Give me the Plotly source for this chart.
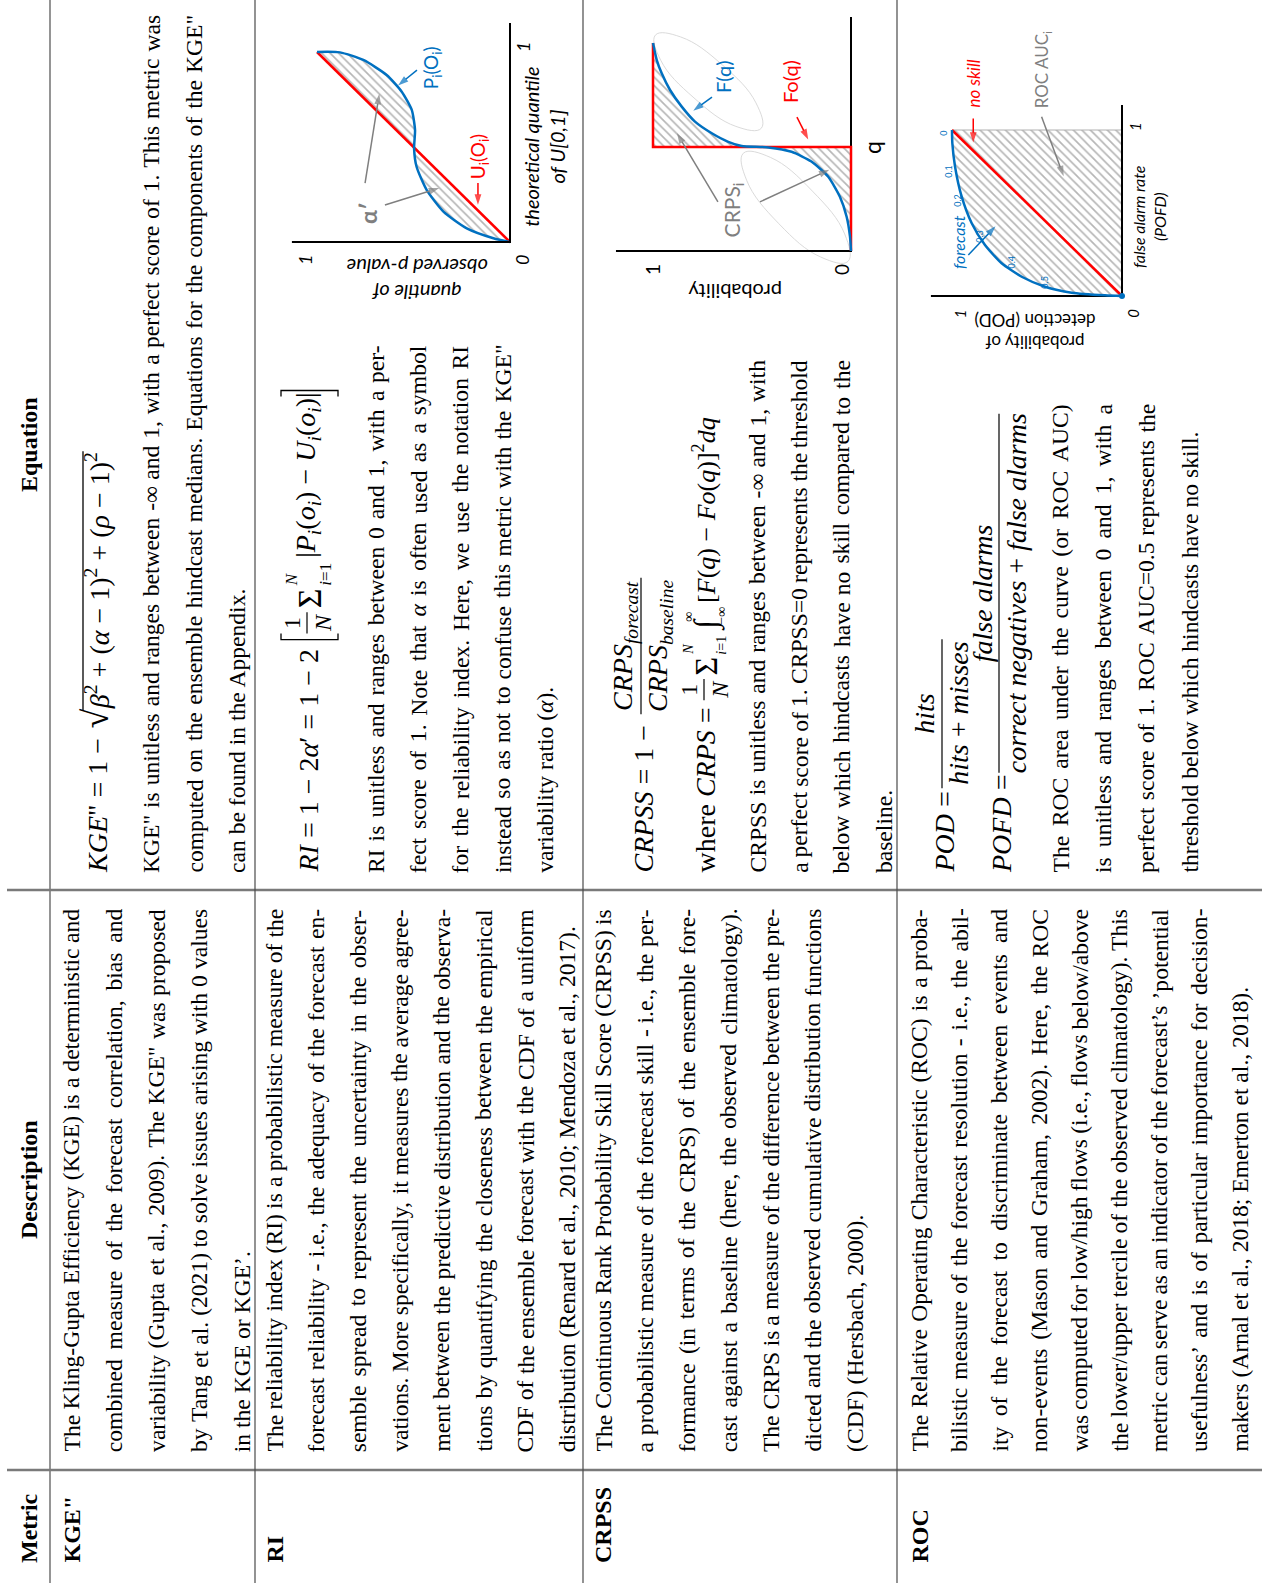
import re
import plotly.graph_objects as go

W, H = 1262, 1583

# ------------------------------------------------------------------ data
headers = ["Metric", "Description", "Equation"]
metrics = ['KGE"', "RI", "CRPSS", "ROC"]

desc_kge = [
    "The Kling-Gupta Efficiency (KGE) is a deterministic and",
    "combined measure of the forecast correlation, bias and",
    "variability (Gupta et al., 2009). The KGE\" was proposed",
    "by Tang et al. (2021) to solve issues arising with 0 values",
    "in the KGE or KGE’.",
]
desc_ri = [
    "The reliability index (RI) is a probabilistic measure of the",
    "forecast reliability - i.e., the adequacy of the forecast en-",
    "semble spread to represent the uncertainty in the obser-",
    "vations. More specifically, it measures the average agree-",
    "ment between the predictive distribution and the observa-",
    "tions by quantifying the closeness between the empirical",
    "CDF of the ensemble forecast with the CDF of a uniform",
    "distribution (Renard et al., 2010; Mendoza et al., 2017).",
]
desc_crpss = [
    "The Continuous Rank Probability Skill Score (CRPSS) is",
    "a probabilistic measure of the forecast skill - i.e., the per-",
    "formance (in terms of the CRPS) of the ensemble fore-",
    "cast against a baseline (here, the observed climatology).",
    "The CRPS is a measure of the difference between the pre-",
    "dicted and the observed cumulative distribution functions",
    "(CDF) (Hersbach, 2000).",
]
desc_roc = [
    "The Relative Operating Characteristic (ROC) is a proba-",
    "bilistic measure of the forecast resolution - i.e., the abil-",
    "ity of the forecast to discriminate between events and",
    "non-events (Mason and Graham, 2002). Here, the ROC",
    "was computed for low/high flows (i.e., flows below/above",
    "the lower/upper tercile of the observed climatology). This",
    "metric can serve as an indicator of the forecast’s ’potential",
    "usefulness’ and is of particular importance for decision-",
    "makers (Arnal et al., 2018; Emerton et al., 2018).",
]

eq_kge_text = [
    "KGE\" is unitless and ranges between -∞ and 1, with a perfect score of 1. This metric was",
    "computed on the ensemble hindcast medians. Equations for the components of the KGE\"",
    "can be found in the Appendix.",
]
eq_ri_text = [
    "RI is unitless and ranges between 0 and 1, with a per-",
    "fect score of 1. Note that <i>α</i> is often used as a symbol",
    "for the reliability index. Here, we use the notation RI",
    "instead so as not to confuse this metric with the KGE\"",
    "variability ratio (<i>α</i>).",
]
eq_crpss_text = [
    "CRPSS is unitless and ranges between -∞ and 1, with",
    "a perfect score of 1. CRPSS=0 represents the threshold",
    "below which hindcasts have no skill compared to the",
    "baseline.",
]
eq_roc_text = [
    "The ROC area under the curve (or ROC AUC)",
    "is unitless and ranges between 0 and 1, with a",
    "perfect score of 1. ROC AUC=0.5 represents the",
    "threshold below which hindcasts have no skill.",
]

# RI diagram: theoretical quantile of U[0,1] (diagram x) vs observed p-value quantile (diagram y)
ri_theoretical = [0, 0.02, 0.072, 0.16, 0.274, 0.396, 0.493, 0.589, 0.695, 0.791, 0.879, 0.958, 0.998, 1.0]
ri_observed = [0, 0.086, 0.224, 0.345, 0.432, 0.484, 0.497, 0.492, 0.509, 0.561, 0.639, 0.76, 0.881, 1.0]
ri_uniform_t = [0, 1]
ri_uniform_o = [0, 1]

# CRPSS diagram: forecast CDF F(q) and observed step Fo(q)
crps_q = [0, 0.069, 0.165, 0.261, 0.357, 0.43, 0.477, 0.498, 0.505, 0.525, 0.566, 0.622, 0.694, 0.774, 0.854, 0.918, 1.0]
crps_F = [0, 0.005, 0.022, 0.056, 0.115, 0.2, 0.3, 0.418, 0.552, 0.62, 0.703, 0.788, 0.855, 0.914, 0.956, 0.981, 1.0]
obs_q = [0, 0.5, 0.5, 1.0]
obs_Fo = [0, 0, 1, 1]
ell_up_F = [0.453, 0.480, 0.648, 0.860, 0.988, 0.961, 0.793, 0.581, 0.453]
ell_up_q = [0.590, 0.712, 0.893, 1.029, 1.038, 0.917, 0.736, 0.599, 0.590]
ell_lo_F = [0.015, 0.032, 0.195, 0.407, 0.544, 0.527, 0.364, 0.153, 0.015]
ell_lo_q = [-0.05, 0.082, 0.288, 0.450, 0.470, 0.340, 0.131, -0.029, -0.05]

# ROC diagram: false alarm rate (diagram x) vs probability of detection (diagram y)
roc_far = [0, 0.004, 0.02, 0.056, 0.116, 0.197, 0.307, 0.438, 0.598, 0.779, 0.92, 1.0]
roc_pod = [0, 0.1, 0.296, 0.453, 0.59, 0.708, 0.806, 0.884, 0.943, 0.982, 0.998, 1.0]
roc_thr_labels = ["0.5", "0.4", "0.3", "0.2", "0.1", "0"]
roc_thr_far = [0.086, 0.206, 0.357, 0.578, 0.75, 0.98]
roc_thr_pod = [0.453, 0.649, 0.835, 0.972, 1.022, 1.051]
noskill_far = [0, 1]
noskill_pod = [0, 1]
tick_labels = ["0", "1"]

# ------------------------------------------------------------------ styling
SERIF = "Liberation Serif"
SANS = "Lato"
FS = 23.6
EQ = 28
BLUE = "#0070C0"
RED = "#FF0000"
GRAY = "#7F7F7F"

AFM = {' ': 250, '!': 333, '"': 408, "'": 180, '(': 333, ')': 333, '+': 564, ',': 250, '-': 333,
       '.': 250, '/': 278, ':': 278, ';': 278, '=': 564, '?': 444, '[': 333, ']': 333, '|': 200,
       '’': 333, '‘': 333, '−': 564, '∞': 713, 'α': 520, 'β': 500, 'ρ': 500, '′': 275, 'Σ': 620, '∫': 300,
       '√': 550}
for c in '0123456789':
    AFM[c] = 500
AFM.update(dict(zip('ABCDEFGHIJKLMNOPQRSTUVWXYZ',
                    [722, 667, 667, 722, 611, 556, 722, 722, 333, 389, 722, 611, 889, 722, 722, 556, 722, 667,
                     556, 611, 722, 722, 944, 722, 722, 611])))
AFM.update(dict(zip('abcdefghijklmnopqrstuvwxyz',
                    [444, 500, 444, 500, 444, 333, 500, 500, 278, 278, 500, 278, 778, 500, 500, 500, 500, 333,
                     389, 278, 500, 500, 722, 500, 500, 444])))


def tw(s, size):
    total, scale = 0.0, 1.0
    for tok in re.split(r'(<[^>]+>)', s):
        if tok.startswith('<'):
            t = tok.lower()
            if t in ('<sub>', '<sup>'):
                scale = 0.7
            elif t in ('</sub>', '</sup>'):
                scale = 1.0
            continue
        total += sum(AFM.get(c, 500) for c in tok) * scale
    return total * size / 1000.0


annotations = []
shapes = []


def T(text, x, y, size=FS, color="black", family=SERIF, angle=-90, xanchor="center", yanchor="bottom",
      xref="x", yref="y"):
    annotations.append(dict(text=text, x=x, y=y, xref=xref, yref=yref, showarrow=False, textangle=angle,
                            font=dict(size=size, color=color, family=family), xanchor=xanchor,
                            yanchor=yanchor, borderpad=0, borderwidth=0))


def line_text(text, xc, y0, y1=None, size=FS):
    if y1 is None:
        T(text, xc, y0, size)
        return
    words = text.split(' ')
    widths = [tw(w, size) for w in words]
    gap = ((y0 - y1) - sum(widths)) / (len(words) - 1)
    y = y0
    for i, (w, wd) in enumerate(zip(words, widths)):
        if i == len(words) - 1:
            T(w, xc, y1, size, yanchor="top")
        else:
            T(w, xc, y, size)
        y -= wd + gap


def paragraph(lines, x0, step, y0, y1, size=FS):
    for i, ln in enumerate(lines):
        last = i == len(lines) - 1
        line_text(ln, x0 + i * step, y0, None if last else y1, size)


def hbar(x, ya, yb, width=1.2):
    shapes.append(dict(type="line", xref="x", yref="y", x0=x, x1=x, y0=ya, y1=yb,
                       line=dict(color="black", width=width)))


def bracket(y, xa, xb, side):
    d = -6 if side == "left" else 6
    shapes.append(dict(type="path", xref="x", yref="y",
                       path=f"M {xa},{y + d} L {xa},{y} L {xb},{y} L {xb},{y + d}",
                       line=dict(color="black", width=1.3)))


# ------------------------------------------------------------------ table grid
for yy in (890, 1470):
    shapes.append(dict(type="line", xref="x", yref="y", x0=7, x1=W, y0=yy, y1=yy,
                       line=dict(color="#7a7a7a", width=2.5)))
shapes.append(dict(type="line", xref="x", yref="y", x0=50, x1=50, y0=0, y1=H,
                   line=dict(color="#7a7a7a", width=1.6)))
for xx in (255, 583, 897):
    shapes.append(dict(type="line", xref="x", yref="y", x0=xx, x1=xx, y0=0, y1=H,
                       line=dict(color="#4a4a4a", width=1.2)))

# headers
T("<b>" + headers[0] + "</b>", 29, 1563, 24)
T("<b>" + headers[1] + "</b>", 29, 1180, 24, yanchor="middle")
T("<b>" + headers[2] + "</b>", 29, 445, 24, yanchor="middle")

# metric labels
row_first_x = [71, 274, 603, 919]
for m, xx in zip(metrics, row_first_x):
    T("<b>" + m + "</b>", xx, 1563, 24)

# descriptions (justified)
DY0, DY1 = 1452, 909
paragraph(desc_kge, 71, 42.7, DY0, DY1)
paragraph(desc_ri, 274, 41.9, DY0, DY1)
paragraph(desc_crpss, 603, 41.9, DY0, DY1)
paragraph(desc_roc, 919, 40.0, DY0, DY1)

# equation column text
EY0 = 873
paragraph(eq_kge_text, 151, 43, EY0, 15)
paragraph(eq_ri_text, 376, 42.2, EY0, 345)
paragraph(eq_crpss_text, 757, 42.2, EY0, 360)
paragraph(eq_roc_text, 1060, 43, EY0, 404)

# ---- KGE equation
xc = 97
cur = EY0
a = '<i>KGE</i>" = 1 − '
T(a, xc, cur, EQ)
cur -= tw(a, EQ) + 2
T("√", xc - 1, cur, 36)
cur -= tw("√", 36) - 1
rad = "<i>β</i><sup>2</sup> + (<i>α</i> − 1)<sup>2</sup> + (<i>ρ</i> − 1)<sup>2</sup>"
T(rad, xc, cur, EQ)
shapes.append(dict(type="line", xref="x", yref="y", x0=xc - 14, x1=xc - 14, y0=cur + 1,
                   y1=cur - tw(rad, EQ) - 2, line=dict(color="black", width=1.3)))

# ---- RI equation
xc = 308
cur = EY0
a = "<i>RI</i> = 1 − 2<i>α</i>′ = 1 − 2"
T(a, xc, cur, EQ)
cur -= tw(a, EQ) + 8
bracket(cur, 281, 338, "left")
cur -= 6
fw = tw("N", 24) + 4
T("1", xc - 16, cur - fw / 2, 24, yanchor="middle")
T("<i>N</i>", xc + 15, cur - fw / 2, 24, yanchor="middle")
hbar(xc - 1, cur, cur - fw)
cur -= fw + 4
ws = tw("Σ", 34)
T("Σ", xc + 1, cur, 34)
T("<i>N</i>", xc - 17, cur - ws - 1, 17)
T("<i>i</i>=1", xc + 18, cur - ws - 1, 17)
cur -= ws + tw("i=1", 17) + 6
b = "|<i>P<sub>i</sub></i>(<i>o<sub>i</sub></i>) − <i>U<sub>i</sub></i>(<i>o<sub>i</sub></i>)|"
T(b, xc, cur, EQ)
cur -= tw(b, EQ) + 4
bracket(cur, 281, 338, "right")

# ---- CRPSS equations
xc = 643
cur = EY0
a = "<i>CRPSS</i> = 1 −"
T(a, xc, cur, EQ)
cur -= tw(a, EQ) + 8
num = "<i>CRPS<sub>forecast</sub></i>"
den = "<i>CRPS<sub>baseline</sub></i>"
fw = max(tw(num, EQ), tw(den, EQ)) + 4
T(num, xc - 19, cur - fw / 2, EQ, yanchor="middle")
T(den, xc + 16, cur - fw / 2, EQ, yanchor="middle")
hbar(xc - 2, cur, cur - fw)

xc = 705
cur = EY0
a = "where <i>CRPS</i> ="
T(a, xc, cur, EQ)
cur -= tw(a, EQ) + 6
fw = tw("N", 24) + 4
T("1", xc - 16, cur - fw / 2, 24, yanchor="middle")
T("<i>N</i>", xc + 15, cur - fw / 2, 24, yanchor="middle")
hbar(xc - 1, cur, cur - fw)
cur -= fw + 3
ws = tw("Σ", 32)
T("Σ", xc + 1, cur, 32)
T("<i>N</i>", xc - 16, cur - ws - 1, 14)
T("<i>i</i>=1", xc + 17, cur - ws - 1, 14)
cur -= ws + tw("i=1", 14) + 6
wi = tw("∫", 32)
T("∫", xc + 1, cur, 32)
T("∞", xc - 16, cur - wi, 14)
T("−∞", xc + 17, cur - wi + 3, 14)
cur -= wi + tw("−∞", 14) + 1
b = "[<i>F</i>(<i>q</i>) − <i>Fo</i>(<i>q</i>)]<sup>2</sup><i>dq</i>"
T(b, xc, cur, 26)

# ---- ROC equations
xc = 944
cur = EY0
a = "<i>POD</i> ="
T(a, xc, cur, EQ)
cur -= tw(a, EQ) + 6
num = "<i>hits</i>"
den = "<i>hits</i> + <i>misses</i>"
fw = max(tw(num, EQ), tw(den, EQ)) + 4
T(num, xc - 19, cur - fw / 2, EQ, yanchor="middle")
T(den, xc + 15, cur - fw / 2, EQ, yanchor="middle")
hbar(xc - 2, cur, cur - fw)

xc = 1001
cur = EY0
a = "<i>POFD</i> ="
T(a, xc, cur, EQ)
cur -= tw(a, EQ) + 6
num = "<i>false alarms</i>"
den = "<i>correct negatives</i> + <i>false alarms</i>"
fw = max(tw(num, EQ), tw(den, EQ)) + 4
T(num, xc - 19, cur - fw / 2, EQ, yanchor="middle")
T(den, xc + 15, cur - fw / 2, EQ, yanchor="middle")
hbar(xc - 2, cur, cur - fw)

# ------------------------------------------------------------------ diagrams
fig = go.Figure()
fig.add_trace(go.Scatter(x=[0], y=[0], mode="markers", marker=dict(opacity=0), hoverinfo="skip",
                         xaxis="x", yaxis="y"))

axes = {}


def diag_axes(n, cx, cy, ux, uy, box):
    x0, x1, y0, y1 = box
    axes["xaxis%d" % n] = dict(domain=[x0 / W, x1 / W], range=[(cx - x0) / ux, (cx - x1) / ux],
                               anchor="y%d" % n, visible=False, fixedrange=True)
    axes["yaxis%d" % n] = dict(domain=[1 - y1 / H, 1 - y0 / H], range=[(cy - y1) / uy, (cy - y0) / uy],
                               anchor="x%d" % n, visible=False, fixedrange=True)


diag_axes(2, 510, 242, 193, 190, (268, 580, 8, 322))
diag_axes(3, 851, 251, 198, 208, (598, 886, 4, 318))
diag_axes(4, 1122, 296, 170, 166, (912, 1200, 28, 368))

HATCH = dict(shape="\\", fgcolor="#6e6e6e", bgcolor="white", size=6, solidity=0.28)


def sc(x, y, n, **kw):
    fig.add_trace(go.Scatter(x=x, y=y, xaxis="x%d" % n, yaxis="y%d" % n, hoverinfo="skip", **kw))


def A(text, x, y, n, size=17, color="black", angle=-90, italic=False, family=SANS):
    if italic:
        text = "<i>" + text + "</i>"
    T(text, x, y, size, color, family, angle, "center", "middle", "x%d" % n, "y%d" % n)


def arrow(n, hx, hy, tx, ty, color):
    sc([tx, hx], [ty, hy], n, mode="lines+markers", line=dict(color=color, width=1.5),
       marker=dict(symbol=["circle", "arrow"], size=[0, 11], angleref="previous", standoff=4,
                   color=color, line=dict(width=0)), cliponaxis=False)


# RI
sc(ri_observed, ri_theoretical, 2, mode="lines", fill="toself", fillpattern=HATCH,
   fillcolor="rgba(0,0,0,0)", line=dict(width=0))
sc(ri_uniform_o, ri_uniform_t, 2, mode="lines", line=dict(color=RED, width=2.5))
sc(ri_observed, ri_theoretical, 2, mode="lines", line=dict(color=BLUE, width=2.5, shape="spline", smoothing=0.6))
sc([1.13, 0, 0], [0, 0, 1.153], 2, mode="lines", line=dict(color="black", width=2))
A("P<sub>i</sub>(O<sub>i</sub>)", 0.404, 0.915, 2, 19, BLUE)
arrow(2, 0.596, 0.81, 0.482, 0.905, BLUE)
A("U<sub>i</sub>(O<sub>i</sub>)", 0.16, 0.447, 2, 19, RED)
arrow(2, 0.166, 0.175, 0.166, 0.31, RED)
A("<b>α′</b>", 0.736, 0.153, 2, 23, GRAY)
arrow(2, 0.674, 0.8, 0.751, 0.31, GRAY)
arrow(2, 0.347, 0.29, 0.648, 0.195, GRAY)
A(tick_labels[1], -0.067, 1.026, 2, 18, italic=True)
A(tick_labels[0], -0.062, -0.095, 2, 18, italic=True)
A(tick_labels[1], 1.062, -0.095, 2, 18, italic=True)
A("theoretical quantile<br>of U[0,1]", -0.175, 0.5, 2, 20, italic=True)
A("quantile of<br>observed p-value", 0.48, -0.2, 2, 20, angle=180, italic=True)

# CRPSS
lo = [i for i, q in enumerate(crps_q) if q <= 0.5]
hi = [i for i, q in enumerate(crps_q) if q > 0.5]
sc([crps_F[i] for i in lo] + [0], [crps_q[i] for i in lo] + [0.5], 3, mode="lines", fill="toself",
   fillpattern=HATCH, fillcolor="rgba(0,0,0,0)", line=dict(width=0))
sc([crps_F[i] for i in hi] + [1], [crps_q[i] for i in hi] + [0.5], 3, mode="lines", fill="toself",
   fillpattern=HATCH, fillcolor="rgba(0,0,0,0)", line=dict(width=0))
sc(ell_up_F, ell_up_q, 3, mode="lines", line=dict(color="#d6d6d6", width=0.9, shape="spline", smoothing=1.2))
sc(ell_lo_F, ell_lo_q, 3, mode="lines", line=dict(color="#d6d6d6", width=0.9, shape="spline", smoothing=1.2))
sc([1.187, 0, 0], [0, 0, 1.125], 3, mode="lines", line=dict(color="black", width=2))
sc(obs_Fo, obs_q, 3, mode="lines", line=dict(color=RED, width=2.5))
sc(crps_F, crps_q, 3, mode="lines", line=dict(color=BLUE, width=2.5, shape="spline", smoothing=0.6))
A("F(q)", 0.646, 0.837, 3, 20, BLUE)
arrow(3, 0.813, 0.663, 0.702, 0.74, BLUE)
A("Fo(q)", 0.308, 0.812, 3, 20, RED)
arrow(3, 0.207, 0.519, 0.273, 0.644, RED)
A("CRPS<sub>i</sub>", 0.596, 0.2, 3, 21, GRAY)
arrow(3, 0.889, 0.582, 0.672, 0.236, GRAY)
arrow(3, 0.091, 0.399, 0.46, 0.236, GRAY)
A("q", -0.106, 0.5, 3, 23)
A("probability", 0.586, -0.2, 3, 20, angle=180)
A(tick_labels[1], 1.0, -0.091, 3, 19)
A(tick_labels[0], 0.045, -0.091, 3, 19)

# ROC
sc(roc_pod + [0], roc_far + [1], 4, mode="lines", fill="toself", fillpattern=HATCH,
   fillcolor="rgba(0,0,0,0)", line=dict(width=0))
sc([1, 0], [1, 1], 4, mode="lines", line=dict(color="#b0b0b0", width=1))
sc([1.124, 0, 0], [0, 0, 1.151], 4, mode="lines", line=dict(color="black", width=2))
sc(noskill_pod, noskill_far, 4, mode="lines", line=dict(color=RED, width=2.5))
sc(roc_pod, roc_far, 4, mode="lines", line=dict(color=BLUE, width=2.5, shape="spline", smoothing=0.6))
sc([roc_pod[0]], [roc_far[0]], 4, mode="markers", marker=dict(color=BLUE, size=6), cliponaxis=False)
for lab, fa, po in zip(roc_thr_labels, roc_thr_far, roc_thr_pod):
    A(lab, po, fa, 4, 9, BLUE)
A("no skill", 0.875, 1.281, 4, 17, RED, italic=True)
arrow(4, 0.875, 0.9, 0.875, 1.07, RED)
A("ROC AUC<sub>i</sub>", 0.463, 1.361, 4, 17, GRAY)
arrow(4, 0.335, 0.699, 0.473, 1.08, GRAY)
A("forecast", 0.965, 0.325, 4, 16, BLUE, italic=True)
arrow(4, 0.728, 0.438, 0.904, 0.247, BLUE)
A(tick_labels[1], -0.076, 1.024, 4, 15, italic=True)
A(tick_labels[0], -0.067, -0.104, 4, 15, italic=True)
A(tick_labels[1], 0.953, -0.104, 4, 15, italic=True)
A("false alarm rate<br>(POFD)", -0.159, 0.476, 4, 16, italic=True)
A("probability of<br>detection (POD)", 0.51, -0.21, 4, 17, angle=180)

layout = dict(
    width=W, height=H, margin=dict(l=0, r=0, t=0, b=0, pad=0),
    paper_bgcolor="white", plot_bgcolor="rgba(0,0,0,0)", showlegend=False,
    xaxis=dict(domain=[0, 1], range=[0, W], visible=False, fixedrange=True),
    yaxis=dict(domain=[0, 1], range=[H, 0], visible=False, fixedrange=True),
    annotations=annotations, shapes=shapes,
)
layout.update(axes)
fig.update_layout(**layout)
fig.write_html("out.html")
